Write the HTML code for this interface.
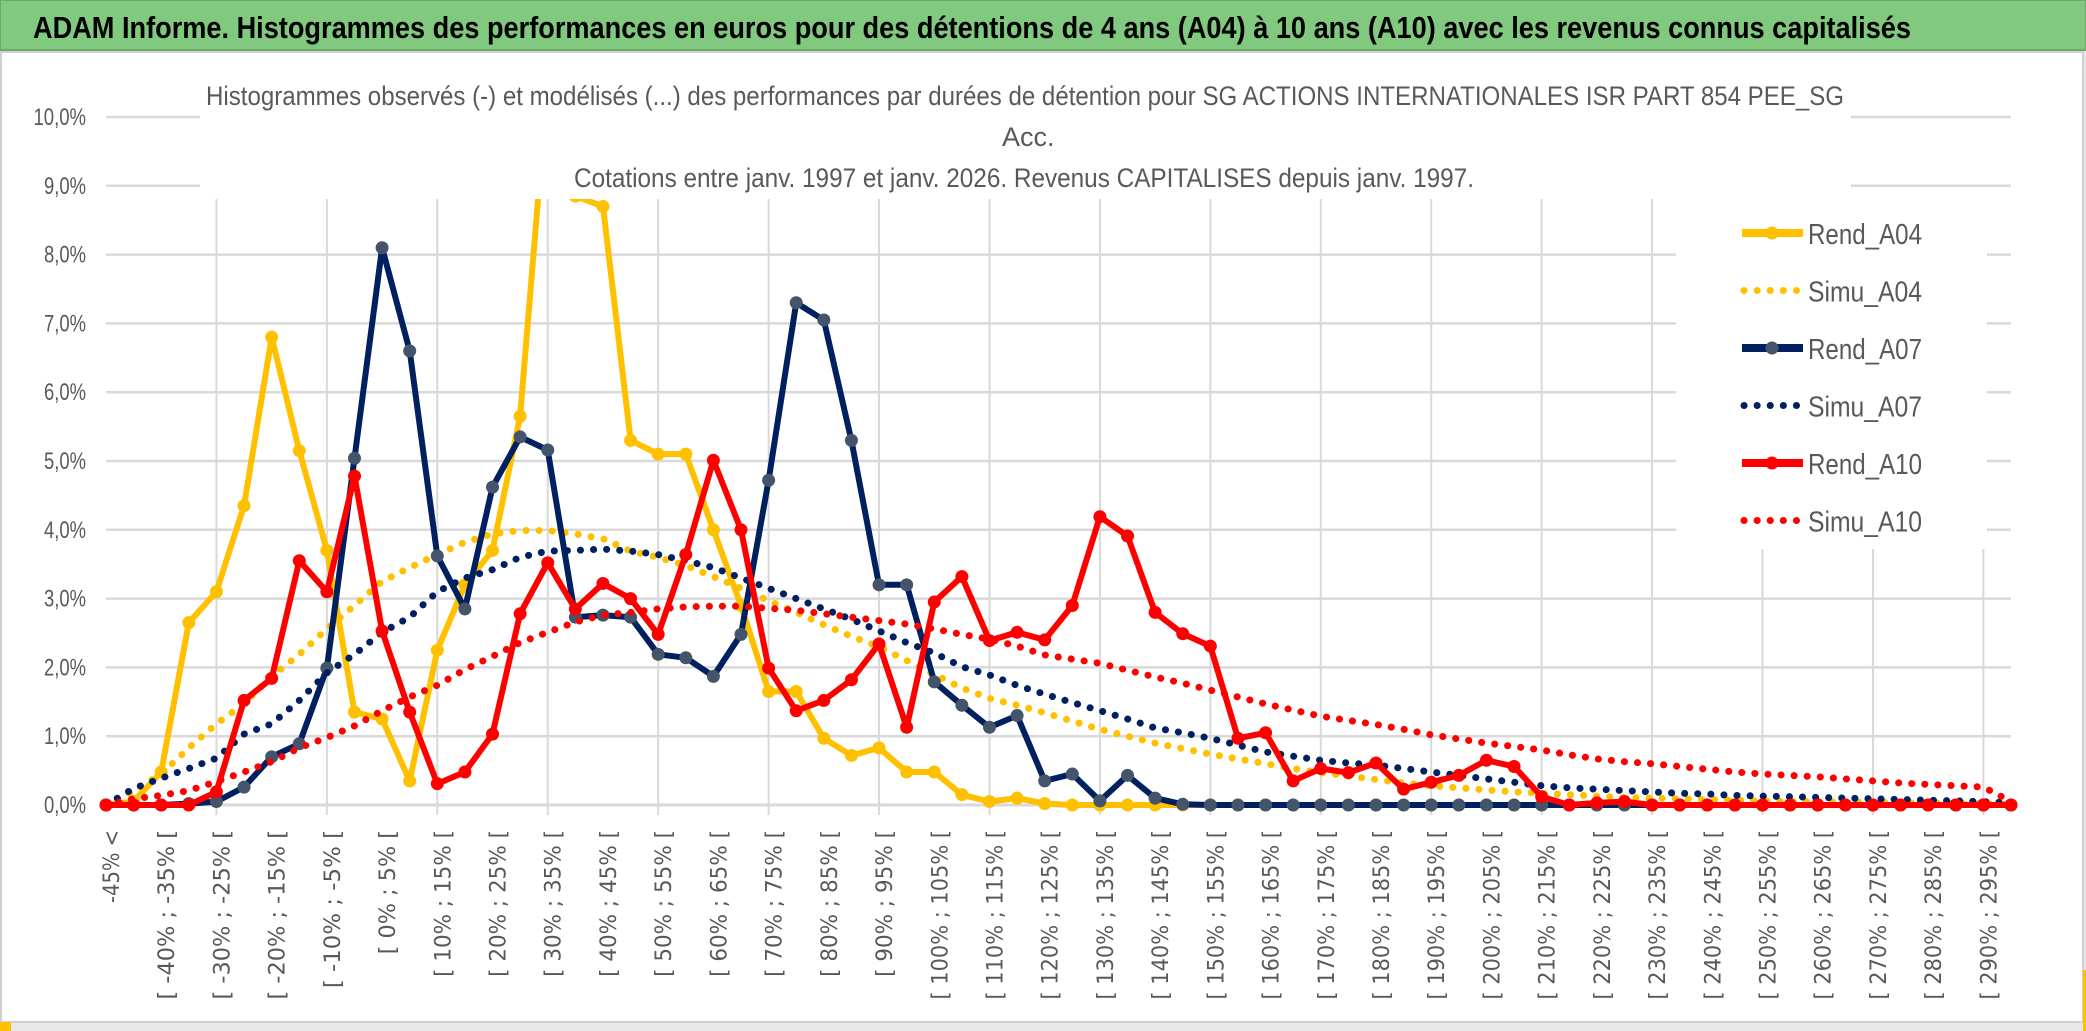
<!DOCTYPE html>
<html><head><meta charset="utf-8"><style>
html,body{margin:0;padding:0;background:#fff;}
svg{display:block;}
</style></head><body>
<svg id="chart" width="2086" height="1031" xmlns="http://www.w3.org/2000/svg">
<rect x="0" y="0" width="2086" height="1031" fill="#e8e8e8"/>
<rect x="1" y="52" width="2082" height="970" fill="#ffffff" stroke="#d0d0d0" stroke-width="2"/>
<rect x="0" y="0" width="2086" height="50" fill="#80c97f" stroke="#6aa96a" stroke-width="2"/>
<text x="33" y="38" font-family="Liberation Sans Narrow, Liberation Sans, sans-serif" font-weight="bold" font-size="31" fill="#000" textLength="1878" lengthAdjust="spacingAndGlyphs">ADAM Informe. Histogrammes des performances en euros pour des détentions de 4 ans (A04) à 10 ans (A10) avec les revenus connus capitalisés</text>
<rect x="2083" y="970" width="3" height="61" fill="#ffc000"/>
<rect x="0" y="1022" width="11" height="9" fill="#ffc000"/>
<g id="grid"></g>
<g id="series"></g>
<rect x="200" y="54" width="1651" height="145" fill="#fff"/>
<text x="206" y="105" font-family="Liberation Sans Narrow, Liberation Sans, sans-serif" font-size="27" fill="#595959" textLength="1638" lengthAdjust="spacingAndGlyphs">Histogrammes observés (-) et modélisés (...) des performances par durées de détention pour SG ACTIONS INTERNATIONALES ISR PART 854 PEE_SG</text>
<text x="1002" y="146" font-family="Liberation Sans Narrow, Liberation Sans, sans-serif" font-size="27" fill="#595959">Acc.</text>
<text x="574" y="187" font-family="Liberation Sans Narrow, Liberation Sans, sans-serif" font-size="27" fill="#595959" textLength="900" lengthAdjust="spacingAndGlyphs">Cotations entre janv. 1997 et janv. 2026. Revenus CAPITALISES depuis janv. 1997.</text>
<rect x="1676" y="199" width="311" height="350" fill="#fff"/>
<g id="legend"></g>
<g id="labels"></g>
</svg>
<script>
const categoriesLow = [];
const rendA04 = [0,0.05,0.48,2.65,3.1,4.35,6.8,5.15,3.7,1.35,1.25,0.35,2.25,3.2,3.7,5.65,10.5,8.85,8.7,5.3,5.1,5.1,4.0,2.9,1.65,1.65,0.97,0.72,0.83,0.48,0.48,0.15,0.05,0.1,0.02,0,0,0,0,0,0,0,0,0,0,0,0,0,0,0,0,0,0,0,0,0,0,0,0,0,0,0,0,0,0,0,0,0,0,0];
const simuA04 = [0,0.2,0.45,0.83,1.18,1.47,1.87,2.19,2.56,2.9,3.25,3.45,3.64,3.82,3.94,3.99,3.99,3.94,3.87,3.69,3.6,3.48,3.32,3.15,2.97,2.8,2.62,2.45,2.3,2.1,1.9,1.7,1.55,1.45,1.34,1.22,1.1,1.0,0.9,0.82,0.74,0.67,0.6,0.53,0.47,0.42,0.37,0.32,0.28,0.25,0.22,0.19,0.17,0.15,0.13,0.11,0.1,0.09,0.08,0.07,0.06,0.05,0.05,0.04,0.04,0.03,0.03,0.02,0.02,0.01];
const rendA07 = [0,0,0,0.02,0.05,0.26,0.7,0.89,1.99,5.04,8.1,6.6,3.62,2.85,4.62,5.35,5.16,2.73,2.76,2.73,2.19,2.14,1.87,2.48,4.72,7.3,7.05,5.3,3.2,3.2,1.79,1.45,1.13,1.3,0.35,0.45,0.06,0.43,0.1,0.01,0,0,0,0,0,0,0,0,0,0,0,0,0,0,0,0,0,0,0,0,0,0,0,0,0,0,0,0,0,0];
const simuA07 = [0,0.24,0.39,0.53,0.68,1.03,1.18,1.52,1.92,2.19,2.51,2.73,3.1,3.3,3.42,3.6,3.69,3.7,3.72,3.69,3.64,3.55,3.45,3.3,3.15,3.0,2.85,2.7,2.53,2.36,2.21,2.01,1.89,1.74,1.61,1.49,1.37,1.25,1.12,1.05,0.97,0.87,0.77,0.71,0.65,0.61,0.58,0.53,0.48,0.43,0.38,0.33,0.28,0.25,0.23,0.21,0.19,0.17,0.16,0.14,0.13,0.12,0.11,0.1,0.09,0.08,0.07,0.06,0.05,0.03];
const rendA10 = [0,0,0,0,0.19,1.52,1.84,3.55,3.1,4.78,2.53,1.35,0.31,0.48,1.03,2.78,3.52,2.85,3.22,3.0,2.48,3.64,5.01,4.0,1.99,1.37,1.52,1.82,2.34,1.13,2.95,3.32,2.39,2.51,2.4,2.9,4.19,3.91,2.8,2.49,2.31,0.97,1.05,0.35,0.53,0.47,0.61,0.23,0.33,0.43,0.65,0.56,0.12,0,0.03,0.05,0,0,0,0,0,0,0,0,0,0,0,0,0,0];
const simuA10 = [0,0.09,0.14,0.21,0.34,0.48,0.63,0.83,0.98,1.15,1.37,1.57,1.74,1.97,2.16,2.36,2.51,2.66,2.76,2.8,2.85,2.88,2.89,2.89,2.86,2.83,2.78,2.73,2.68,2.63,2.56,2.48,2.41,2.31,2.18,2.12,2.06,1.96,1.86,1.77,1.67,1.57,1.47,1.38,1.29,1.23,1.17,1.1,1.02,0.96,0.9,0.85,0.8,0.73,0.67,0.63,0.6,0.56,0.52,0.48,0.45,0.43,0.41,0.38,0.35,0.32,0.3,0.28,0.26,0.05];
const yTicks = [0,1,2,3,4,5,6,7,8,9,10];
const yTickLabels = ["0,0%","1,0%","2,0%","3,0%","4,0%","5,0%","6,0%","7,0%","8,0%","9,0%","10,0%"];
for (let v = -45; v <= 295; v += 5) categoriesLow.push(v);

const NS = "http://www.w3.org/2000/svg";
const X0 = 106, X1 = 2011, Y0 = 805, Y10 = 117;
const nCat = rendA04.length;
function xPos(i){ return X0 + (X1 - X0) * i / (nCat - 1); }
function yPos(v){ return Y0 - (Y0 - Y10) * v / 10; }
function mk(tag, attrs, parent){
  const e = document.createElementNS(NS, tag);
  for (const k in attrs) e.setAttribute(k, attrs[k]);
  parent.appendChild(e);
  return e;
}
function catLabel(i){
  if (i === 0) return "-45% <";
  const lo = categoriesLow[i - 1];
  return "[ " + lo + "% ; " + (lo + 5) + "% [";
}
const grid = document.getElementById('grid');
const labels = document.getElementById('labels');
yTicks.forEach((t, k) => {
  const ln = mk('line', {x1: X0, x2: X1, y1: yPos(t), y2: yPos(t), stroke: '#d9d9d9', 'stroke-width': t === 0 ? 3 : 2.5}, grid);
  
  
  const tx = mk('text', {x: 86, y: yPos(t) + 8, 'text-anchor': 'end', 'font-family': 'Liberation Sans Narrow, Liberation Sans, sans-serif', 'font-size': 24, fill: '#595959', textLength: (yTickLabels[k].length * 10.5), lengthAdjust: 'spacingAndGlyphs'}, labels);
  tx.textContent = yTickLabels[k];
  
  
});
for (let i = 0; i < nCat; i++) {
  const x = xPos(i);
  if (i % 4 === 0 && i > 0) {
    const vl = mk('line', {x1: x, x2: x, y1: 199, y2: 815, stroke: '#d9d9d9', 'stroke-width': 2}, grid);
    
    
  }
  if (i % 2 === 0) {
    const s = catLabel(i);
    const tx = mk('text', {transform: 'translate(' + (x + 13) + ',830) rotate(-90)', 'text-anchor': 'end', 'font-family': 'DejaVu Sans, sans-serif', 'font-size': 22, fill: '#595959', textLength: (i === 0 ? 73 : s.length * 11.3), lengthAdjust: 'spacingAndGlyphs'}, labels);
    tx.textContent = s;
    
    
  }
}
const seriesG = document.getElementById('series');
const seriesDefs = [
  {name: 'Rend_A04', data: rendA04, color: '#ffc000', marker: '#ffc000', dotted: false},
  {name: 'Simu_A04', data: simuA04, color: '#ffc000', dotted: true},
  {name: 'Rend_A07', data: rendA07, color: '#002060', marker: '#44546a', dotted: false},
  {name: 'Simu_A07', data: simuA07, color: '#002060', dotted: true},
  {name: 'Rend_A10', data: rendA10, color: '#ff0000', marker: '#ff0000', dotted: false},
  {name: 'Simu_A10', data: simuA10, color: '#ff0000', dotted: true}
];
seriesDefs.forEach(s => {
  const g = mk('g', {}, seriesG);
  
  
  const pts = s.data.map((v, i) => xPos(i).toFixed(1) + ',' + yPos(v).toFixed(1)).join(' ');
  const attrs = {points: pts, fill: 'none', stroke: s.color, 'stroke-linejoin': 'round', 'stroke-linecap': 'round'};
  if (s.dotted) { attrs['stroke-width'] = 7; attrs['stroke-dasharray'] = '0.1 13'; }
  else attrs['stroke-width'] = 6;
  const pl = mk('polyline', attrs, g);
  
  
  if (!s.dotted) {
    s.data.forEach((v, i) => {
      const c = mk('circle', {cx: xPos(i), cy: yPos(v), r: 6.5, fill: s.marker}, g);
      
      
    });
  }
});
const legend = document.getElementById('legend');
seriesDefs.forEach((s, k) => {
  const y = 233 + k * 57.5;
  const g = mk('g', {}, legend);
  
  
  if (s.dotted) {
    mk('line', {x1: 1744, x2: 1800, y1: y, y2: y, stroke: s.color, 'stroke-width': 7, 'stroke-dasharray': '0.1 13', 'stroke-linecap': 'round'}, g);
  } else {
    mk('line', {x1: 1742, x2: 1803, y1: y, y2: y, stroke: s.color, 'stroke-width': 8}, g);
    mk('circle', {cx: 1772, cy: y, r: 6.5, fill: s.marker}, g);
  }
  const t = mk('text', {x: 1808, y: y + 11, 'font-family': 'Liberation Sans Narrow, Liberation Sans, sans-serif', 'font-size': 29, fill: '#595959', textLength: 114, lengthAdjust: 'spacingAndGlyphs'}, g);
  t.textContent = s.name;
});
</script>
</body></html>
